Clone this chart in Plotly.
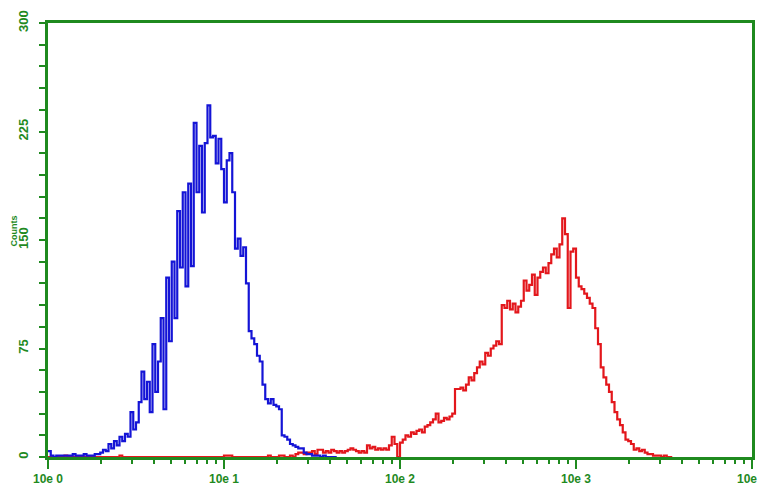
import plotly.graph_objects as go

# 256-channel log histogram over 4 decades (channel -> intensity 10**(ch/64))
blue_start_channel = 0
blue_counts = [
    4, 1, 0, 1, 1, 1, 1, 1, 1, 2, 1, 1, 1, 2, 1, 1, 1, 2, 2, 3,
    5, 4, 9, 6, 11, 8, 14, 11, 16, 14, 31, 19, 24, 38, 59, 40, 52, 31, 78, 45,
    66, 96, 33, 124, 80, 135, 96, 170, 131, 183, 118, 189, 132, 231, 183, 215, 169, 217, 243, 221,
    222, 203, 220, 199, 176, 205, 210, 183, 144, 151, 139, 145, 120, 87, 82, 78, 70, 66, 50, 40,
    37, 40, 36, 35, 33, 15, 14, 12, 9, 8, 7, 6, 6, 3, 2, 2, 1, 1, 1, 0,
    1, 0, 0, 0, 0, 0,
]

red_start_channel = 0
red_counts = [
    0, 0, 0, 0, 0, 0, 1, 0, 0, 0, 0, 0, 0, 0, 0, 0, 0, 0, 0, 0,
    0, 0, 0, 0, 0, 0, 1, 0, 0, 0, 0, 0, 0, 0, 0, 0, 0, 0, 0, 0,
    0, 0, 0, 0, 0, 0, 0, 0, 0, 0, 0, 0, 0, 0, 0, 0, 0, 0, 0, 0,
    0, 0, 0, 0, 1, 1, 1, 0, 0, 0, 0, 0, 0, 0, 0, 0, 0, 0, 0, 0,
    1, 0, 0, 0, 1, 1, 0, 0, 1, 0, 2, 3, 3, 2, 3, 3, 4, 2, 5, 5,
    3, 4, 3, 5, 4, 3, 4, 3, 4, 5, 6, 5, 4, 3, 4, 3, 8, 6, 7, 5,
    6, 5, 6, 5, 8, 14, 9, 0, 10, 12, 15, 14, 17, 16, 18, 19, 17, 21, 22, 24,
    26, 30, 24, 25, 27, 26, 28, 30, 47, 47, 48, 46, 50, 55, 53, 58, 62, 66, 64, 72,
    70, 75, 77, 80, 78, 105, 103, 108, 102, 106, 100, 104, 108, 122, 115, 119, 126, 112, 124, 128,
    131, 127, 134, 140, 144, 138, 147, 165, 154, 103, 142, 144, 124, 118, 116, 113, 110, 106, 103, 89,
    78, 62, 55, 50, 45, 38, 31, 26, 22, 17, 12, 11, 9, 5, 6, 4, 5, 3, 2, 2,
    1, 1, 1, 0, 1, 0, 0, 0,
]

channels_per_decade = 64
x_tick_vals = [1, 10, 100, 1000, 10000]
x_tick_text = ["10e 0", "10e 1", "10e 2", "10e 3", "10e 4"]
y_tick_vals = [0, 75, 150, 225, 300]
y_tick_text = ["0", "75", "150", "225", "300"]

GREEN = "#1f8a1f"
BLUE = "#1414d6"
RED = "#e3171c"


def to_intensity(start, n):
    return [10 ** ((start + i) / channels_per_decade) for i in range(n)]


blue_x = to_intensity(blue_start_channel, len(blue_counts))
red_x = to_intensity(red_start_channel, len(red_counts))

minor_x = [m * d for d in [1, 10, 100, 1000] for m in range(2, 10)]

fig = go.Figure()
fig.add_trace(go.Scatter(x=red_x, y=red_counts, mode="lines",
                         line=dict(color=RED, width=2.2, shape="hv"),
                         showlegend=False, hoverinfo="skip"))
fig.add_trace(go.Scatter(x=blue_x, y=blue_counts, mode="lines",
                         line=dict(color=BLUE, width=2.2, shape="hv"),
                         showlegend=False, hoverinfo="skip"))

fig.update_layout(
    width=767, height=487,
    margin=dict(l=40, r=23, t=15, b=38, pad=0),
    paper_bgcolor="white", plot_bgcolor="white",
    font=dict(family="Liberation Sans", color=GREEN),
)
fig.update_xaxes(
    type="log", range=[0, 4], automargin=False,
    showgrid=False, zeroline=False,
    showline=True, linecolor=GREEN, linewidth=2.5, mirror=True,
    ticks="outside", ticklen=9, tickwidth=2, tickcolor=GREEN,
    tickmode="array", tickvals=x_tick_vals, ticktext=x_tick_text,
    ticklabelstandoff=0,
    tickfont=dict(size=12, color=GREEN, weight="bold"),
    minor=dict(tickmode="array", tickvals=minor_x, ticks="outside",
               ticklen=4, tickwidth=2, tickcolor=GREEN, showgrid=False),
)
fig.update_yaxes(
    range=[0, 300], automargin=False,
    showgrid=False, zeroline=False,
    showline=True, linecolor=GREEN, linewidth=2.5, mirror=True,
    ticks="outside", ticklen=6, tickwidth=2, tickcolor=GREEN,
    tickmode="array", tickvals=y_tick_vals, ticktext=y_tick_text,
    tickangle=-90, ticklabelstandoff=6,
    tickfont=dict(size=13, color=GREEN, weight="bold"),
    minor=dict(dtick=15, ticks="outside", ticklen=6, tickwidth=2,
               tickcolor=GREEN, showgrid=False),
)
fig.add_annotation(text="Counts", xref="paper", yref="paper",
                   x=-0.048, y=0.52, xanchor="center", yanchor="middle",
                   textangle=-90, showarrow=False,
                   font=dict(size=9, color=GREEN, weight="bold"))

fig.write_html("out.html")
